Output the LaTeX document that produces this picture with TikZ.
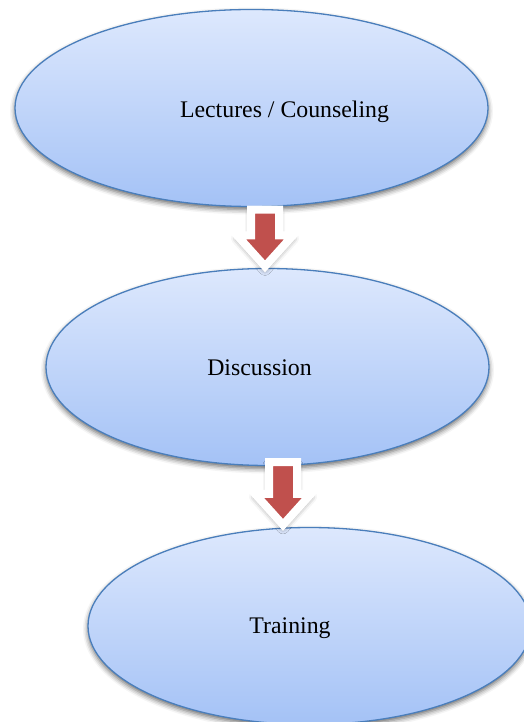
\documentclass[tikz,border=0pt]{standalone}
\usepackage{fontspec}
\setmainfont{Liberation Serif}
\usetikzlibrary{shapes.geometric,shadows.blur,calc}

\definecolor{stagetop}{RGB}{221,232,253}
\definecolor{stagebot}{RGB}{164,194,246}
\definecolor{stageline}{RGB}{74,126,187}
\definecolor{flowred}{RGB}{192,80,77}

\tikzset{
  stage/.style={ellipse, draw=stageline, line width=1.3pt,
    top color=stagetop, bottom color=stagebot,
    minimum width=443pt, minimum height=197pt, inner sep=0pt,
    blur shadow={shadow xshift=0pt, shadow yshift=-3pt, shadow blur radius=5pt, shadow opacity=60}},
  flow/.style={fill=flowred, draw=white, line width=8pt, line join=miter,
    blur shadow={shadow xshift=0pt, shadow yshift=-3pt, shadow blur radius=6pt, shadow opacity=55}}
}

% block arrow, shaft top #1 down to tip #2
\newcommand\flowarrow[2]{%
  \draw[flow] let \p1=(#1), \p2=(#2) in
    (\x1-14pt,\y1) -- (\x1-14pt,\y2+31pt) -- (\x1-28pt,\y2+31pt) -- (\x1,\y2)
    -- (\x1+28pt,\y2+31pt) -- (\x1+14pt,\y2+31pt) -- (\x1+14pt,\y1) -- cycle;}

\begin{document}
\begin{tikzpicture}[x=1pt,y=-1pt,font=\fontsize{23.8}{28}\selectfont]
  \useasboundingbox (0,0) rectangle (523,722);
  \node[stage, minimum width=473pt,
    label={[xshift=33pt,yshift=-4pt]center:Lectures / Counseling}] (lect) at (251.5,108) {};
  \node[stage, label={[xshift=-8pt,yshift=-1pt]center:Discussion}] (disc) at (267.5,367) {};
  \node[stage, label={[xshift=-19.5pt,yshift=-2pt]center:Training}] (train) at (309.5,626) {};
  \flowarrow{[xshift=13.5pt,yshift=-2.5pt]lect.south}{[xshift=-2.5pt,yshift=1.5pt]disc.north}
  \flowarrow{[xshift=15.5pt,yshift=4pt]disc.south}{[xshift=-26.5pt,yshift=2pt]train.north}
\end{tikzpicture}
\end{document}
